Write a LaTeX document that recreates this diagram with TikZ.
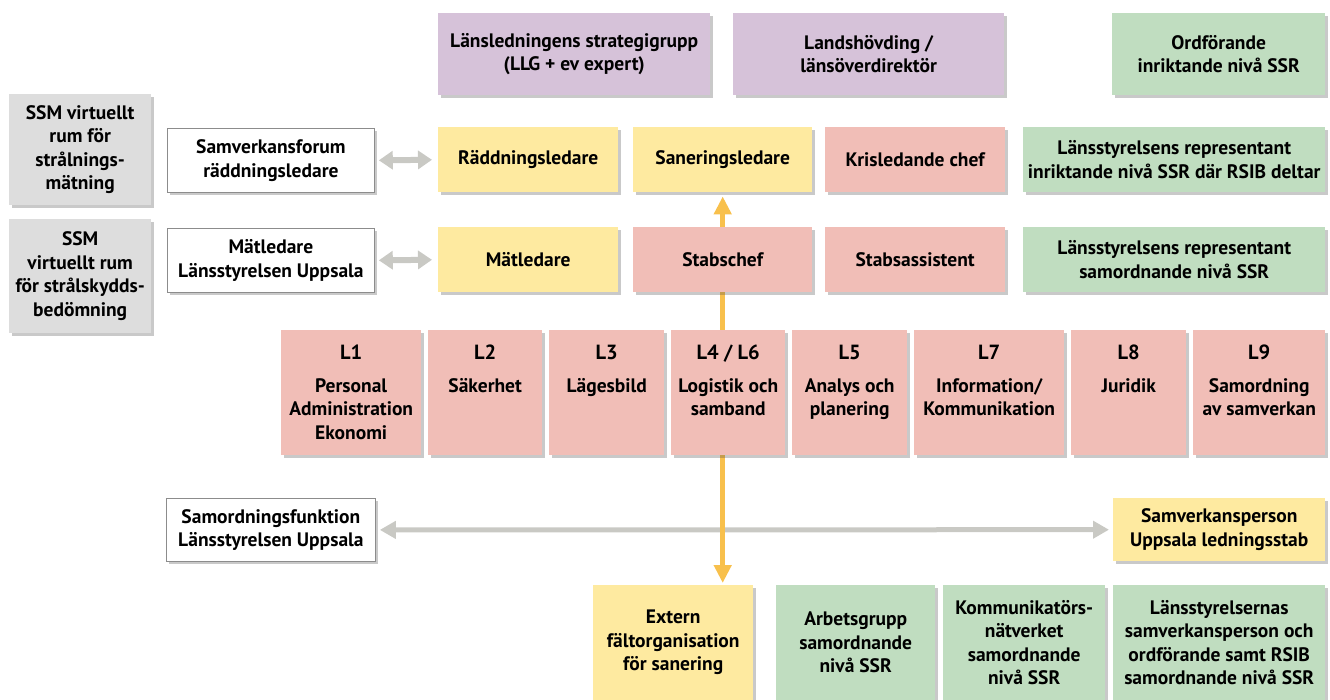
\documentclass[tikz,border=0pt]{standalone}
\usepackage{fontspec}
\setmainfont{PT Sans}
\usetikzlibrary{shadows,arrows.meta}
\definecolor{cpur}{HTML}{D6C2D9}
\definecolor{cgrn}{HTML}{C0DDC0}
\definecolor{cyel}{HTML}{FEEAA0}
\definecolor{cpnk}{HTML}{F1BEB7}
\definecolor{cgry}{HTML}{DDDDDD}
\definecolor{corg}{HTML}{F8C04C}
\definecolor{carr}{HTML}{C9C9C4}
\pgfdeclarelayer{bg}
\pgfsetlayers{bg,main}
\tikzset{
  box/.style={inner sep=0pt, align=center, anchor=north west,
    font=\fontsize{19.5}{23.5}\selectfont\bfseries,
    drop shadow={shadow xshift=2.5pt, shadow yshift=-2.5pt, opacity=0.3, fill=black!70}},
  pur/.style={box, fill=cpur},
  grn/.style={box, fill=cgrn},
  yel/.style={box, fill=cyel},
  pnk/.style={box, fill=cpnk},
  gry/.style={box, fill=cgry},
  wht/.style={box, fill=white, draw=black!45, line width=0.8pt},
  grayarrow/.style={carr, line width=5pt, {Triangle[width=17pt,length=16pt]}-{Triangle[width=17pt,length=16pt]}},
  smallarrow/.style={carr, line width=6pt, {Triangle[width=18pt,length=14pt]}-{Triangle[width=18pt,length=14pt]}},
  orgarrow/.style={corg, line width=5pt, {Triangle[width=17pt,length=18pt]}-{Triangle[width=17pt,length=18pt]}}
}
% \bx{style}{x1}{y1}{x2}{y2}{name}{text}
\newcommand\bx[7]{\node[#1, minimum width=#4pt-#2pt, minimum height=#5pt-#3pt] (#6) at (#2,#3) {#7};}
% \Lbx{name}{x1}{x2}{title}{body}
\newcommand\Lbx[5]{\node[pnk, minimum width=#3pt-#2pt, minimum height=125pt] (#1) at (#2,330)
  {\parbox[c][125pt][t]{\dimexpr#3pt-#2pt-2pt\relax}{\centering\vskip15pt{\fontsize{20.5}{22}\selectfont #4}\par\vskip9pt #5\par}};}
\begin{document}
\begin{tikzpicture}[x=1pt,y=-1pt]
\useasboundingbox (0,0) rectangle (1330,700);
% top row
\bx{pur}{438}{13}{710}{95}{llg}{Länsledningens strategigrupp\\(LLG + ev expert)}
\bx{pur}{733}{13}{1004}{95}{lh}{Landshövding /\\länsöverdirektör}
\bx{grn}{1112}{13}{1325}{95}{ordf}{Ordförande\\inriktande nivå SSR}
% row 2
\bx{gry}{9}{94}{151}{205}{ssm1}{SSM virtuellt\\rum för\\strålnings-\\mätning}
\bx{wht}{167}{128}{374}{192}{svf}{Samverkansforum\\räddningsledare}
\bx{yel}{438}{127}{618}{192}{rl}{Räddningsledare}
\bx{yel}{633}{127}{812}{192}{san}{Saneringsledare}
\bx{pnk}{825}{127}{1005}{192}{kc}{Krisledande chef}
\bx{grn}{1023}{127}{1325}{192}{lri}{Länsstyrelsens representant\\inriktande nivå SSR där RSIB deltar}
% row 3
\bx{gry}{9}{219}{151}{333}{ssm2}{SSM\\virtuellt rum\\för strålskydds-\\bedömning}
\bx{wht}{167}{228}{374}{292}{mlu}{Mätledare\\Länsstyrelsen Uppsala}
\bx{yel}{438}{227}{618}{292}{ml}{Mätledare}
\bx{pnk}{633}{227}{812}{292}{sc}{Stabschef}
\bx{pnk}{825}{227}{1005}{292}{sa}{Stabsassistent}
\bx{grn}{1023}{227}{1325}{292}{lrs}{Länsstyrelsens representant\\samordnande nivå SSR}
% L row
\Lbx{l1}{281}{421}{L1}{Personal\\Administration\\Ekonomi}
\Lbx{l2}{428}{542}{L2}{Säkerhet}
\Lbx{l3}{549}{664}{L3}{Lägesbild}
\Lbx{l4}{671}{785}{L4 / L6}{Logistik och\\samband}
\Lbx{l5}{792}{907}{L5}{Analys och\\planering}
\Lbx{l7}{914}{1064}{L7}{Information/\\Kommunikation}
\Lbx{l8}{1071}{1186}{L8}{Juridik}
\Lbx{l9}{1193}{1325}{L9}{Samordning\\av samverkan}
% row 5
\bx{wht}{166}{498}{375}{561}{sfl}{Samordningsfunktion\\Länsstyrelsen Uppsala}
\bx{yel}{1113}{498}{1325}{561}{svp}{Samverkansperson\\Uppsala ledningsstab}
% bottom row
\bx{yel}{593}{585}{753}{700}{ext}{Extern\\fältorganisation\\för sanering}
\bx{grn}{776}{585}{935}{700}{arb}{Arbetsgrupp\\samordnande\\nivå SSR}
\bx{grn}{943}{585}{1105}{700}{kom}{Kommunikatörs-\\nätverket\\samordnande\\nivå SSR}
\bx{grn}{1113}{585}{1325}{700}{lsp}{Länsstyrelsernas\\samverkansperson och\\ordförande samt RSIB\\samordnande nivå SSR}
% connectors
\begin{pgfonlayer}{bg}
\draw[smallarrow, shorten <=4pt, shorten >=6pt] (svf.east) -- (rl.west);
\draw[smallarrow, shorten <=4pt, shorten >=6pt] (mlu.east) -- (ml.west);
\draw[grayarrow, shorten <=4pt, shorten >=4pt] (sfl.east) -- (svp.west);
\draw[orgarrow, shorten <=2pt, shorten >=4pt] (ext.north -| sc.south) -- (san.south);
\end{pgfonlayer}
\end{tikzpicture}
\end{document}
